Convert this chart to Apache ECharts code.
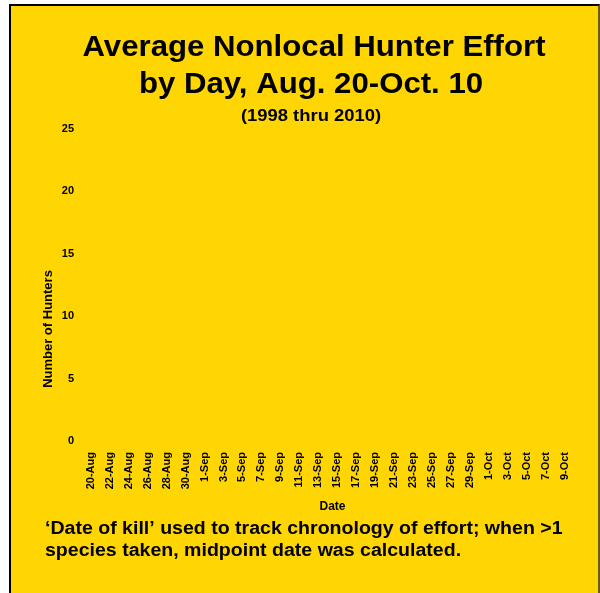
<!DOCTYPE html>
<html><head><meta charset="utf-8">
<script src="https://cdn.jsdelivr.net/npm/echarts@6/dist/echarts.min.js"></script>
<style>
html,body{margin:0;padding:0;background:#ffffff;}
#frame{position:absolute;left:9px;top:4px;width:587px;height:589px;border-left:2px solid #000;border-top:2px solid #000;border-right:2px solid #6b5a10;background:#FFD602;}
#chart{position:absolute;left:0;top:0;width:600px;height:593px;}
</style>
</head><body>
<div id="frame"></div>
<div id="chart"></div>
<script>
const dates = ["20-Aug","21-Aug","22-Aug","23-Aug","24-Aug","25-Aug","26-Aug","27-Aug","28-Aug","29-Aug","30-Aug","31-Aug",
"1-Sep","2-Sep","3-Sep","4-Sep","5-Sep","6-Sep","7-Sep","8-Sep","9-Sep","10-Sep","11-Sep","12-Sep","13-Sep","14-Sep","15-Sep",
"16-Sep","17-Sep","18-Sep","19-Sep","20-Sep","21-Sep","22-Sep","23-Sep","24-Sep","25-Sep","26-Sep","27-Sep","28-Sep","29-Sep","30-Sep",
"1-Oct","2-Oct","3-Oct","4-Oct","5-Oct","6-Oct","7-Oct","8-Oct","9-Oct","10-Oct"];
// No bars are visible in the reference: every day reads as 0
const hunters = [0,0,0,0,0,0,0,0,0,0,0,0,0,0,0,0,0,0,0,0,0,0,0,0,0,0,0,0,0,0,0,0,0,0,0,0,0,0,0,0,0,0,0,0,0,0,0,0,0,0,0,0];
const yTicks = [0,5,10,15,20,25];

const chart = echarts.init(document.getElementById('chart'), null, {renderer:'canvas'});
const F = '"Liberation Sans", Arial, sans-serif';
function txt(text, x, y, size, sx, align, extra) {
  return Object.assign({type: 'text', x: x, y: y, scaleX: sx, silent: true, style: {
    text: text, fontFamily: F, fontWeight: 'bold', fontSize: size, fill: '#000',
    textAlign: align || 'center', textVerticalAlign: 'middle'}}, extra || {});
}
chart.setOption({
  backgroundColor: 'transparent',
  animation: false,
  graphic: [
    txt('Average Nonlocal Hunter Effort', 314, 48, 29, 1.075),
    txt('by Day, Aug. 20-Oct. 10', 311, 85, 29, 1.075),
    txt('(1998 thru 2010)', 311, 117, 16, 1.15),
    txt('Number of Hunters', 48, 329, 13, 1.0, 'center', {rotation: Math.PI / 2}),
    {type: 'text', x: 45, y: 518, scaleX: 1.086, silent: true, style: {
      text: '\u2018Date of kill\u2019 used to track chronology of effort; when >1\nspecies taken, midpoint date was calculated.',
      fontFamily: F, fontWeight: 'bold', fontSize: 18, lineHeight: 22, fill: '#000'}}
  ],
  grid: {left: 86, right: 21, top: 129, bottom: 152, containLabel: false},
  xAxis: {
    type: 'category', data: dates,
    name: 'Date', nameLocation: 'middle', nameGap: 60,
    nameTextStyle: {fontFamily: F, fontWeight: 'bold', fontSize: 12, color: '#000'},
    axisLine: {show: false}, axisTick: {show: false},
    axisLabel: {rotate: 90, interval: 1, margin: 11, fontFamily: F, fontWeight: 'bold', fontSize: 11, color: '#000'}
  },
  yAxis: {
    type: 'value', min: 0, max: 25, interval: 5,
    axisLine: {show: false}, axisTick: {show: false}, splitLine: {show: false},
    axisLabel: {margin: 12, fontFamily: F, fontWeight: 'bold', fontSize: 11, color: '#000',
      formatter: v => yTicks.includes(v) ? String(v) : ''}
  },
  series: [{type: 'bar', data: hunters, itemStyle: {color: '#000080'}, barCategoryGap: '20%'}]
});
</script>
</body></html>
